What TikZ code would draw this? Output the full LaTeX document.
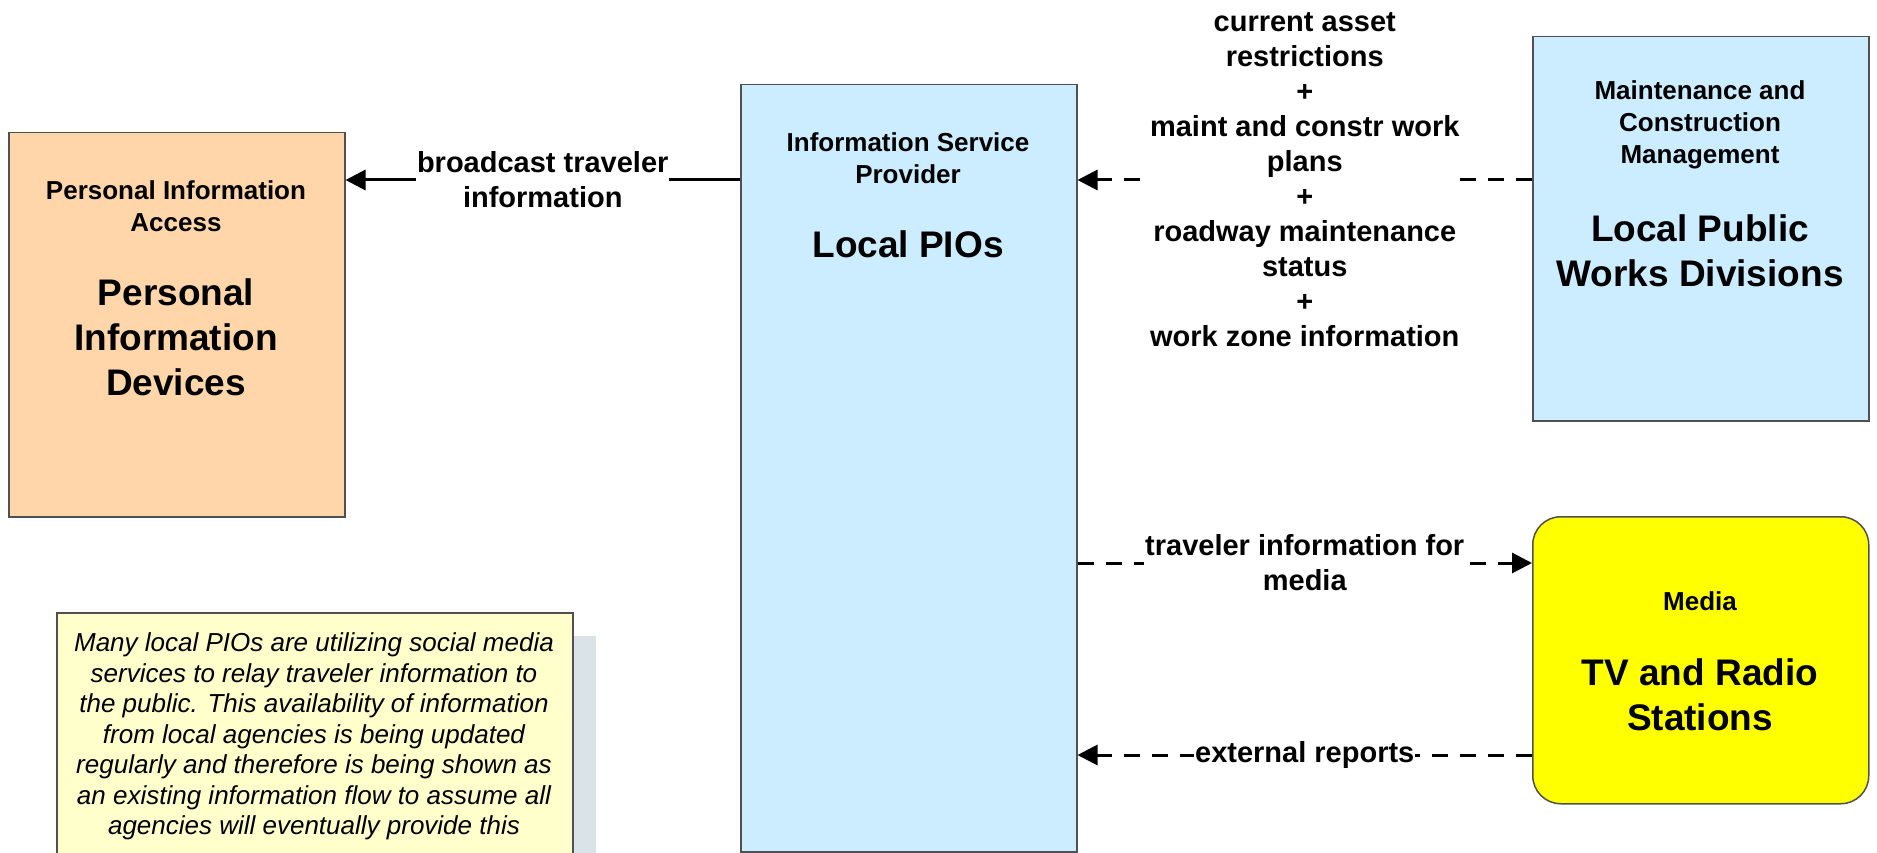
\documentclass[tikz,border=0pt]{standalone}
\usepackage{fontspec}
\setmainfont{Liberation Sans}
\usetikzlibrary{arrows.meta}
\definecolor{peach}{RGB}{255,214,170}
\definecolor{lblue}{RGB}{204,236,255}
\definecolor{notey}{RGB}{255,255,204}
\definecolor{shadowc}{RGB}{218,228,232}
\definecolor{edgec}{RGB}{80,80,80}
\definecolor{myyellow}{RGB}{255,255,0}
\tikzset{
  box/.style={draw=edgec, line width=1.5pt, anchor=north west, inner sep=0pt},
  smalltitle/.style={font=\bfseries\fontsize{26}{32}\selectfont, align=center, inner sep=0pt},
  bigtitle/.style={font=\bfseries\fontsize{37}{45}\selectfont, align=center, inner sep=0pt},
  lbl/.style={font=\bfseries\fontsize{29}{35}\selectfont, align=center, fill=white, inner sep=1pt},
  solidflow/.style={line width=3pt, -{Triangle[length=20pt,width=20pt]}},
  dashflow/.style={line width=3pt, dash pattern=on 16pt off 12pt, -{Triangle[length=20pt,width=20pt]}},
}
\begin{document}
\begin{tikzpicture}[x=1pt,y=-1pt]
\clip (0,0) rectangle (1877,853);
\useasboundingbox (0,0) rectangle (1877,853);
% boxes
\node[box, fill=peach, minimum width=336pt, minimum height=384pt] (pid) at (8,132) {};
\node[box, fill=lblue, minimum width=336pt, minimum height=767pt] (isp) at (740,84) {};
\node[box, fill=lblue, minimum width=336pt, minimum height=384pt] (mcm) at (1532,36) {};
\node[box, fill=myyellow, rounded corners=28pt, minimum width=336pt, minimum height=287pt] (media) at (1532,516) {};
% titles
\node[smalltitle] (pidt) at (176,206) {Personal Information\\Access};
\node[bigtitle] (pidb) at (176,337) {Personal\\Information\\Devices};
\node[smalltitle] (ispt) at (908,158.5) {Information Service\\Provider};
\node[bigtitle] (ispb) at (908,244) {Local PIOs};
\node[smalltitle] (mcmt) at (1700,124.5) {Maintenance and\\Construction\\Management};
\node[bigtitle] (mcmb) at (1700,251) {Local Public\\Works Divisions};
\node[smalltitle] (mediat) at (1700,601) {Media};
\node[bigtitle] (mediab) at (1700,694.5) {TV and Radio\\Stations};
% note
\fill[shadowc] (80,636) rectangle (596,880);
\node[draw=edgec, line width=1.5pt, fill=notey, anchor=north west, minimum width=516pt, minimum height=268pt, inner sep=0pt] (note) at (56,612) {};
\node[font=\itshape\fontsize{26}{30.5}\selectfont, align=center, inner sep=0pt] (notet) at (314,736.5)
 {Many local PIOs are utilizing social media\\services to relay traveler information to\\the public. This availability of information\\from local agencies is being updated\\regularly and therefore is being shown as\\an existing information flow to assume all\\agencies will eventually provide this};
% connectors
\draw[solidflow] (isp.west |- 0,180) -- node[lbl] (l1) {broadcast traveler\\information} (pid.east |- 0,180);
\draw[dashflow] (mcm.west |- 0,180) -- node[lbl] (l2) {current asset\\restrictions\\+\\maint and constr work\\plans\\+\\roadway maintenance\\status\\+\\work zone information} (isp.east |- 0,180);
\draw[dashflow] (isp.east |- 0,563) -- node[lbl] (l3) {traveler information for\\media} (media.west |- 0,563);
\draw[dashflow] (media.west |- 0,755) -- node[lbl] (l4) {external reports} (isp.east |- 0,755);
\end{tikzpicture}
\end{document}
